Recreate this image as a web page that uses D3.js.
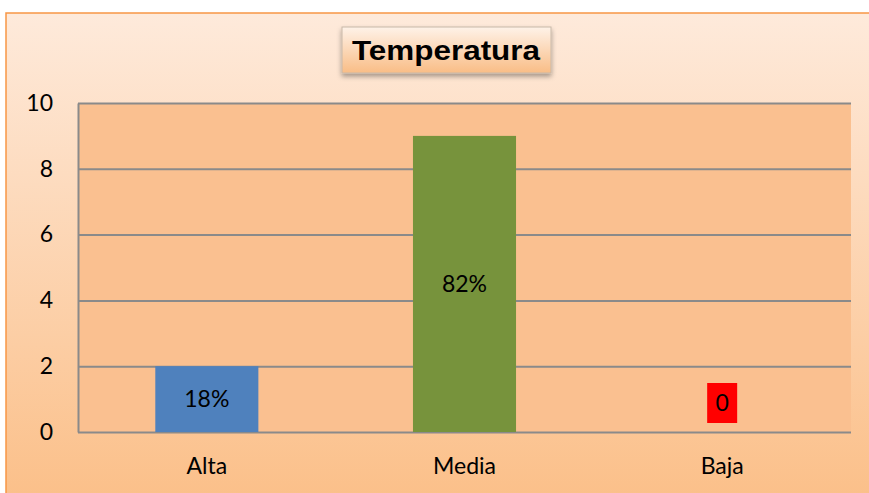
<!DOCTYPE html>
<html>
<head>
<meta charset="utf-8">
<script src="https://cdn.jsdelivr.net/npm/d3@7"></script>
<style>
  html, body { margin: 0; padding: 0; background: #fff; }
</style>
</head>
<body>
<div id="chart"></div>
<script>
const categories = ['Alta', 'Media', 'Baja'];
const values = [2, 9, 0];
const labels = ['18%', '82%', '0'];
const colors = ['#4F81BD', '#77933C', '#FF0000'];
const yTicks = [0, 2, 4, 6, 8, 10];
const title = 'Temperatura';

const width = 869, height = 493;
const margin = {top: 103, right: 18, bottom: 61, left: 78};
const labelFont = 'Lato, "Open Sans", sans-serif';

const svg = d3.select('#chart').append('svg')
    .attr('width', width)
    .attr('height', height);

const defs = svg.append('defs');
const bg = defs.append('linearGradient').attr('id', 'bg')
    .attr('x1', 0).attr('y1', 0).attr('x2', 0).attr('y2', 1);
bg.append('stop').attr('offset', '0%').attr('stop-color', '#FEEADB');
bg.append('stop').attr('offset', '100%').attr('stop-color', '#FBBF88');

const tg = defs.append('linearGradient').attr('id', 'tg')
    .attr('x1', 0).attr('y1', 0).attr('x2', 0).attr('y2', 1);
tg.append('stop').attr('offset', '0%').attr('stop-color', '#FEF2E8');
tg.append('stop').attr('offset', '100%').attr('stop-color', '#F9BD86');

const shadow = defs.append('filter').attr('id', 'shadow')
    .attr('x', '-10%').attr('y', '-20%').attr('width', '120%').attr('height', '160%');
shadow.append('feDropShadow')
    .attr('dx', 0).attr('dy', 3).attr('stdDeviation', 2.5)
    .attr('flood-color', '#000').attr('flood-opacity', 0.35);

// chart frame
svg.append('rect')
    .attr('x', 6).attr('y', 13)
    .attr('width', width).attr('height', height)
    .attr('fill', 'url(#bg)')
    .attr('stroke', '#F79646').attr('stroke-width', 1.5);

const x = d3.scaleBand()
    .domain(categories)
    .range([margin.left, width - margin.right])
    .paddingInner(0.6).paddingOuter(0.3);

const y = d3.scaleLinear()
    .domain([0, 10])
    .range([height - margin.bottom, margin.top]);

// plot area
svg.append('rect')
    .attr('x', margin.left).attr('y', margin.top)
    .attr('width', width - margin.right - margin.left)
    .attr('height', y(0) - margin.top)
    .attr('fill', '#FAC090');

// gridlines
svg.append('g')
    .attr('transform', `translate(${margin.left},0)`)
    .call(d3.axisLeft(y).tickValues(yTicks).tickSize(-(width - margin.right - margin.left)).tickFormat(''))
    .call(g => g.select('.domain').remove())
    .call(g => g.selectAll('line').attr('stroke', '#8A8A8A').attr('stroke-width', 2));

// y axis
svg.append('g')
    .attr('transform', `translate(${margin.left},0)`)
    .call(d3.axisLeft(y).tickValues(yTicks).tickSize(0).tickPadding(25))
    .call(g => g.select('.domain').attr('stroke', '#8A8A8A').attr('stroke-width', 2))
    .call(g => g.selectAll('text')
        .attr('font-family', labelFont)
        .attr('font-size', 23).attr('fill', '#000'));

// bars
svg.selectAll('.bar')
    .data(values)
    .enter()
    .append('rect')
    .attr('class', 'bar')
    .attr('x', (d, i) => x(categories[i]))
    .attr('y', d => y(d))
    .attr('width', x.bandwidth())
    .attr('height', d => y(0) - y(d))
    .attr('fill', (d, i) => colors[i]);

// x labels
svg.selectAll('.xlab')
    .data(categories)
    .enter()
    .append('text')
    .attr('class', 'xlab')
    .attr('x', d => x(d) + x.bandwidth() / 2)
    .attr('y', y(0) + 42)
    .attr('text-anchor', 'middle')
    .attr('font-family', labelFont)
    .attr('font-size', 23)
    .text(d => d);

// data labels
const lab = svg.selectAll('.dlab')
    .data(values.map((v, i) => ({v, i})))
    .enter()
    .append('g')
    .attr('class', 'dlab')
    .attr('transform', d => {
        const cy = d.v > 0 ? (y(d.v) + y(0)) / 2 : y(0) - 29;
        return `translate(${x(categories[d.i]) + x.bandwidth() / 2},${cy})`;
    });

lab.filter(d => d.v === 0).append('rect')
    .attr('x', -15).attr('y', -20)
    .attr('width', 30).attr('height', 40)
    .attr('fill', d => colors[d.i]);

lab.append('text')
    .attr('text-anchor', 'middle')
    .attr('dy', '0.36em')
    .attr('font-family', labelFont)
    .attr('font-size', 23)
    .attr('fill', '#000')
    .text(d => labels[d.i]);

// title box
const tb = svg.append('g').attr('transform', 'translate(446,50)');
tb.append('rect')
    .attr('x', -104).attr('y', -23)
    .attr('width', 209).attr('height', 46)
    .attr('fill', 'url(#tg)')
    .attr('stroke', '#C8B8A8').attr('stroke-width', 1)
    .attr('filter', 'url(#shadow)');
tb.append('text')
    .attr('text-anchor', 'middle')
    .attr('y', 10)
    .attr('font-family', '"Liberation Sans", Arial, sans-serif')
    .attr('font-weight', 'bold')
    .attr('font-size', 27)
    .attr('textLength', 188)
    .attr('lengthAdjust', 'spacingAndGlyphs')
    .text(title);
</script>
</body>
</html>
